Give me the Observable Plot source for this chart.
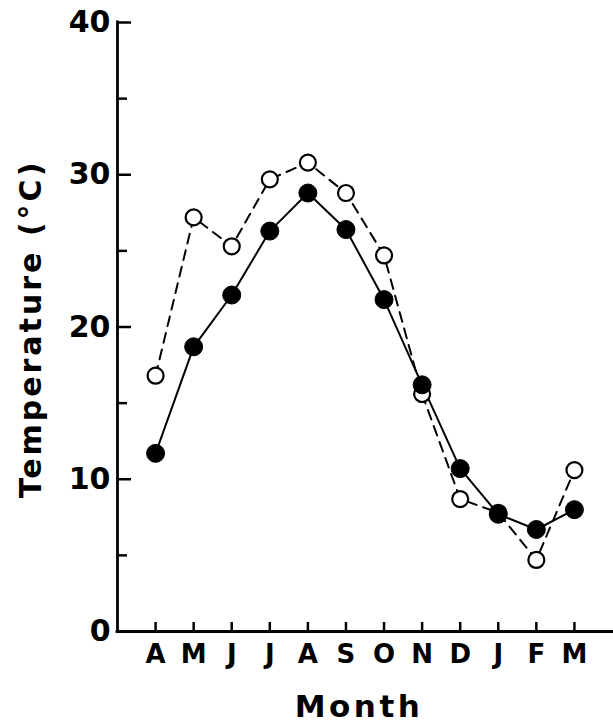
<!DOCTYPE html>
<html><head><meta charset="utf-8">
<script src="https://cdn.jsdelivr.net/npm/d3@7"></script>
<script src="https://cdn.jsdelivr.net/npm/@observablehq/plot@0.6"></script>
<style>body{margin:0;background:#fff} svg{display:block}</style>
</head><body><div id="chart"></div>
<script>
const months = ["A","M","J","J","A","S","O","N","D","J","F","M"];
const filledSeries = [11.7, 18.7, 22.1, 26.3, 28.8, 26.4, 21.8, 16.2, 10.7, 7.7, 6.7, 8.0];
const openSeries = [16.8, 27.2, 25.3, 29.7, 30.8, 28.8, 24.7, 15.6, 8.7, 7.8, 4.7, 10.6];
const yMajorTicks = [0, 10, 20, 30, 40];
const yMinorTicks = [5, 15, 25, 35];
const xLabel = "Month";
const yLabel = "Temperature (°C)";

const data = months.map((m, i) => ({i, month: m, filled: filledSeries[i], open: openSeries[i]}));
const font = "DejaVu Sans, sans-serif";

const chart = Plot.plot({
  width: 613,
  height: 724,
  marginLeft: 117,
  marginRight: 1,
  marginTop: 22,
  marginBottom: 93,
  style: {fontFamily: font, background: "white", color: "black"},
  x: {type: "linear", domain: [-1, months.length]},
  y: {type: "linear", domain: [0, 40]},
  marks: [
    Plot.axisY(yMajorTicks, {tickSize: -14, tickPadding: 21, strokeWidth: 2.5, fontSize: 30, fontWeight: "bold", label: null}),
    Plot.axisY(yMinorTicks, {tickSize: -10, strokeWidth: 2.5, text: null, label: null}),
    Plot.axisX(d3.range(months.length), {tickSize: -9, tickPadding: 22, strokeWidth: 2.5, fontSize: 26, fontWeight: "bold", tickFormat: i => months[i], label: null}),
    Plot.ruleY([0], {strokeWidth: 2.8, strokeLinecap: "square"}),
    Plot.ruleX([-1], {strokeWidth: 2.8, strokeLinecap: "square"}),
    Plot.line(data, {x: "i", y: "open", stroke: "black", strokeWidth: 2, strokeDasharray: "10,7"}),
    Plot.line(data, {x: "i", y: "filled", stroke: "black", strokeWidth: 2}),
    Plot.dot(data, {x: "i", y: "open", r: 8, fill: "white", stroke: "black", strokeWidth: 2.2}),
    Plot.dot(data, {x: "i", y: "filled", r: 9, fill: "black", stroke: "black", strokeWidth: 1}),
    Plot.text([xLabel], {frameAnchor: "bottom", textAnchor: "middle", dx: -6, dy: 85, lineAnchor: "bottom", fontSize: 31, fontWeight: "bold", fill: "black"}),
    Plot.text([yLabel], {frameAnchor: "left", textAnchor: "middle", rotate: -90, dx: -77, dy: 2, lineAnchor: "bottom", fontSize: 30, fontWeight: "bold", fill: "black"})
  ]
});
const svg = chart.tagName.toLowerCase() === "svg" ? chart : chart.querySelector("svg");
d3.select(svg).selectAll("text").each(function() {
  const t = this.textContent;
  if (t === xLabel) this.setAttribute("letter-spacing", "3.5");
  if (t === yLabel) this.setAttribute("letter-spacing", "3");
});
document.getElementById("chart").append(chart);
</script>
</body></html>
